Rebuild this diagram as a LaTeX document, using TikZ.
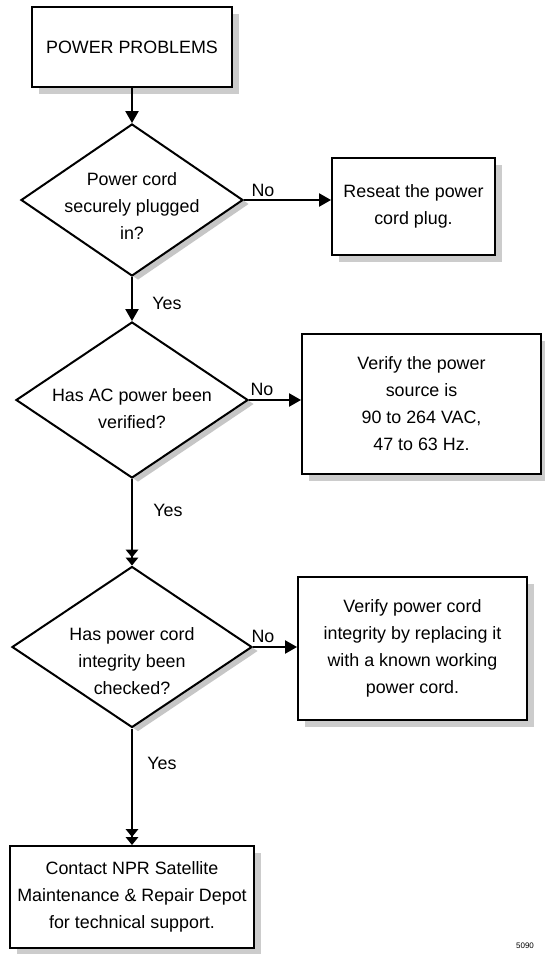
\documentclass[tikz,border=0pt]{standalone}
\usepackage{fontspec}
\setmainfont{Liberation Sans}
\usetikzlibrary{shapes.geometric,arrows.meta,shadows}

\begin{document}
\begin{tikzpicture}[
	font=\fontsize{13.4}{20.3}\selectfont,
	boite/.style={rectangle, draw, line width=1.5pt, fill=white, align=center, inner sep=0pt,
		drop shadow={shadow xshift=5pt, shadow yshift=-5pt, fill=gray!40, opacity=1}},
	losange/.style={diamond, draw, line width=1.5pt, fill=white, inner sep=0pt,
		drop shadow={shadow xshift=4.5pt, shadow yshift=-3pt, fill=gray!45, opacity=1}},
	fleche/.style={line width=1pt, -{Triangle[width=10pt,length=9pt]}},
	fleche2/.style={line width=1pt, -{Triangle[width=9.5pt,length=6pt]Triangle[width=9.5pt,length=6pt]}}
	]
	\begin{scope}[x=0.75pt,y=-0.75pt]
	\useasboundingbox (0,0) rectangle (544,954);
	% boites et losanges
	\node (P) at (132,47) [boite, minimum width=150pt, minimum height=60pt] {POWER PROBLEMS};
	\node (Q1) at (132,200) [losange, minimum width=166.5pt, minimum height=114pt] {};
	\node (T1) at (132,206) [align=center] {Power cord\\securely plugged\\in?};
	\node (R1) at (413.5,206.5) [boite, minimum width=122.25pt, minimum height=72.75pt] {Reseat the power\\cord plug.};
	\node (Q2) at (132,400) [losange, minimum width=174pt, minimum height=117pt] {};
	\node (T2) at (132,409) [align=center] {Has AC power been\\verified?};
	\node (R2) at (421.5,404) [boite, minimum width=179.25pt, minimum height=105pt] {Verify the power\\source is\\90 to 264 VAC,\\47 to 63 Hz.};
	\node (Q3) at (132,647) [losange, minimum width=180pt, minimum height=120.75pt] {};
	\node (T3) at (132,661) [align=center] {Has power cord\\integrity been\\checked?};
	\node (R3) at (412.5,648.5) [boite, minimum width=171.75pt, minimum height=107.25pt] {Verify power cord\\integrity by replacing it\\with a known working\\power cord.};
	\node (C) at (132,897) [boite, minimum width=183pt, minimum height=76.5pt] {Contact NPR Satellite\\Maintenance \& Repair Depot\\for technical support.};
	% etiquettes
	\node (N1) at (263,190) {No};
	\node (N2) at (262,389) {No};
	\node (N3) at (263,636) {No};
	\node (Y1) at (167,303) {Yes};
	\node (Y2) at (168,510) {Yes};
	\node (Y3) at (162,763) {Yes};
	\node (F) at (525,946) [font=\fontsize{6}{7}\selectfont] {5090};
	% liaisons
	\draw[fleche] (P) -- (Q1);
	\draw[fleche] (Q1.east) -- (Q1.east -| R1.west);
	\draw[fleche] (Q1) -- (Q2);
	\draw[fleche] (Q2.east) -- (Q2.east -| R2.west);
	\draw[fleche2] (Q2) -- (Q3);
	\draw[fleche] (Q3.east) -- (Q3.east -| R3.west);
	\draw[fleche2] (Q3) -- (C);
	\end{scope}
\end{tikzpicture}
\end{document}
